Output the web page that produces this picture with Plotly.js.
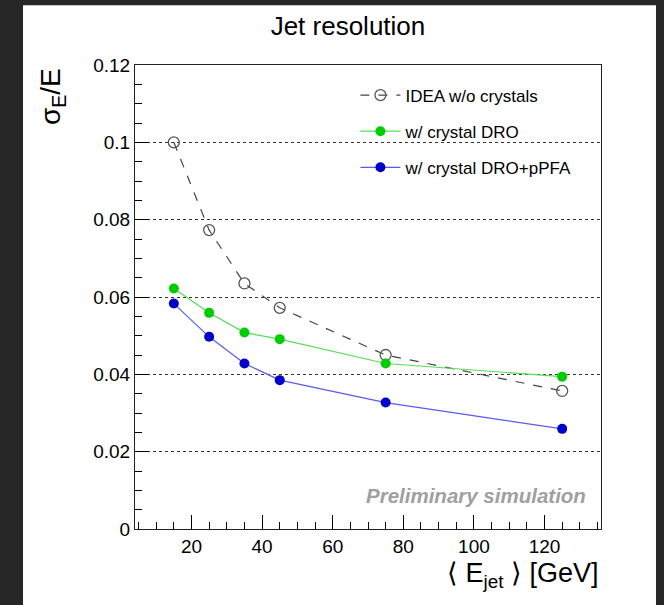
<!DOCTYPE html>
<html>
<head>
<meta charset="utf-8">
<script src="https://cdn.plot.ly/plotly-3.0.1.min.js"></script>
<style>html,body{margin:0;padding:0;background:#262626;}#chart{width:664px;height:605px;}</style>
</head>
<body>
<div id="chart"></div>
<script>
const energies = [15, 25, 35, 45, 75, 125];
const ideaNoCrystals = [0.1000, 0.0773, 0.0635, 0.0572, 0.0450, 0.0357];
const crystalDRO = [0.0622, 0.0559, 0.0508, 0.0491, 0.0428, 0.0394];
const crystalDROpPFA = [0.0583, 0.0497, 0.0428, 0.0385, 0.0327, 0.0259];
const seriesNames = ['IDEA w/o crystals', 'w/ crystal DRO', 'w/ crystal DRO+pPFA'];

const FONT = 'Liberation Sans, Arial, Helvetica, sans-serif';

const traces = [
  {
    x: energies, y: ideaNoCrystals, name: seriesNames[0], legendgroup: 'a',
    mode: 'lines+markers', type: 'scatter',
    line: {color: '#444444', width: 1.2, dash: 'dash'},
    marker: {symbol: 'circle-open', size: 11, color: '#555555', line: {width: 1.3, color: '#555555'}}
  },
  {
    x: energies, y: crystalDRO, name: seriesNames[1], legendgroup: 'b',
    mode: 'lines+markers', type: 'scatter',
    line: {color: '#55dd55', width: 1.2},
    marker: {symbol: 'circle', size: 10, color: '#00cc00'}
  },
  {
    x: energies, y: crystalDROpPFA, name: seriesNames[2], legendgroup: 'c',
    mode: 'lines+markers', type: 'scatter',
    line: {color: '#5a5aee', width: 1.2},
    marker: {symbol: 'circle', size: 10, color: '#0000cc'}
  }
];

const layout = {
  width: 664, height: 605,
  margin: {l: 135, r: 63, t: 65, b: 76},
  paper_bgcolor: '#262626',
  plot_bgcolor: '#ffffff',
  font: {family: FONT, color: '#000000', size: 19},
  showlegend: true,
  title: {
    text: 'Jet resolution', font: {family: FONT, size: 26, color: '#000'},
    xref: 'paper', x: 0.457, xanchor: 'center',
    yref: 'container', y: 0.958, yanchor: 'middle'
  },
  xaxis: {
    range: [4, 136], dtick: 20, tick0: 0,
    ticks: 'inside', ticklen: 14, tickwidth: 1, tickcolor: '#000',
    minor: {dtick: 5, tick0: 0, ticks: 'inside', ticklen: 7, tickcolor: '#000', showgrid: false},
    showline: true, linecolor: '#222', linewidth: 1, mirror: true,
    showgrid: false, zeroline: false,
    tickfont: {family: FONT, size: 19, color: '#000'},
    ticklabelstandoff: 0
  },
  yaxis: {
    range: [0, 0.12], dtick: 0.02, tick0: 0,
    ticks: 'inside', ticklen: 14, tickwidth: 1, tickcolor: '#000',
    minor: {dtick: 0.005, tick0: 0, ticks: 'inside', ticklen: 7, tickcolor: '#000', showgrid: false},
    showline: true, linecolor: '#222', linewidth: 1, mirror: true,
    showgrid: true, gridcolor: '#333', griddash: 'dot', gridwidth: 1,
    zeroline: false,
    tickfont: {family: FONT, size: 19, color: '#000'}
  },
  legend: {
    x: 0.473, xanchor: 'left', y: 0.973, yanchor: 'top',
    bgcolor: 'rgba(0,0,0,0)', borderwidth: 0,
    font: {family: FONT, size: 17, color: '#000'},
    tracegroupgap: 11, itemwidth: 40
  },
  shapes: [
    {type: 'rect', xref: 'paper', yref: 'paper', x0: -0.2403, x1: 1.118, y0: -0.3, y1: 1.129,
     fillcolor: '#ffffff', line: {width: 0}, layer: 'below'}
  ],
  annotations: [
    {text: 'σ<sub>E</sub>/E', xref: 'paper', yref: 'paper', x: -0.178, y: 0.931,
     xanchor: 'center', yanchor: 'middle', textangle: -90, showarrow: false,
     font: {family: FONT, size: 28, color: '#000'}},
    {text: '⟨ E<sub>jet</sub> ⟩ [GeV]', xref: 'paper', yref: 'paper', x: 1.0, y: -0.099,
     xanchor: 'right', yanchor: 'middle', showarrow: false,
     font: {family: FONT, size: 27, color: '#000'}},
    {text: '<b><i>Preliminary simulation</i></b>', xref: 'paper', yref: 'paper', x: 0.972, y: 0.073,
     xanchor: 'right', yanchor: 'middle', showarrow: false,
     font: {family: FONT, size: 20.5, color: '#a0a0a0'}}
  ]
};

Plotly.newPlot('chart', traces, layout, {staticPlot: true, displayModeBar: false});
</script>
</body>
</html>
